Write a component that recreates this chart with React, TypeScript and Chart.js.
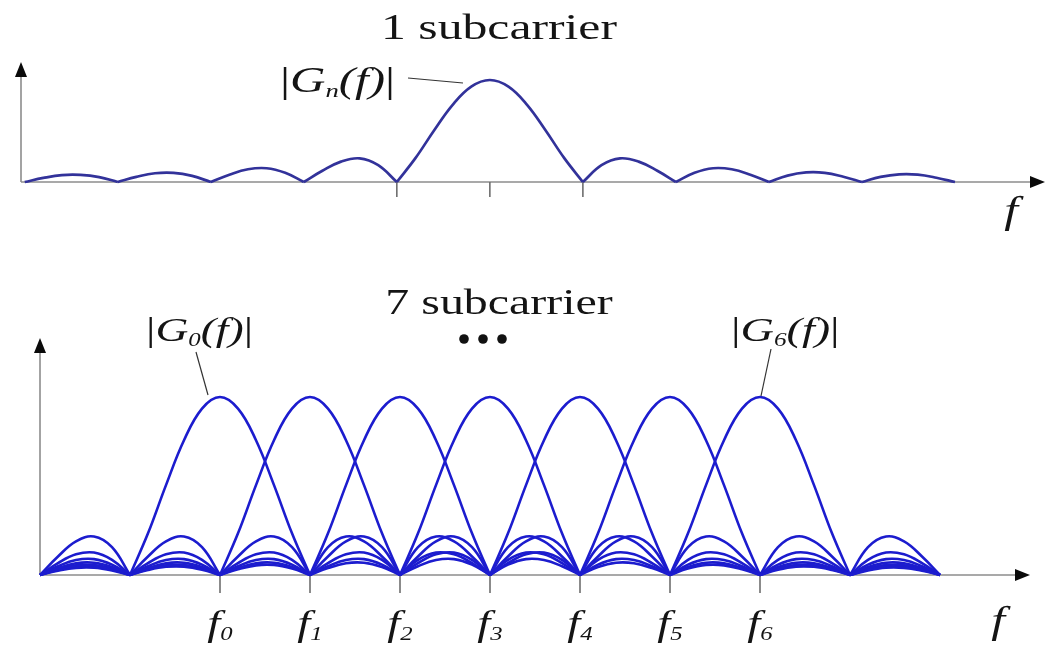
import { useEffect, useRef } from "react";
import { Chart, registerables } from "chart.js";

Chart.register(...registerables);

// Sampling grid used by both panels, in units of the subcarrier spacing
const SAMPLE_STEP = 0.2;

// |Gn(f)| of a single subcarrier, sampled every 0.2 spacings from -5 to +5
const singleCarrierMagnitude: number[] = [
  0, 0.04, 0.068, 0.07, 0.048,
  0, 0.05, 0.086, 0.09, 0.06,
  0, 0.072, 0.125, 0.135, 0.09,
  0, 0.11, 0.2, 0.232, 0.165,
  0, 0.234, 0.505, 0.757, 0.935,
  1,
  0.935, 0.757, 0.505, 0.234, 0,
  0.165, 0.232, 0.2, 0.11, 0,
  0.09, 0.135, 0.125, 0.072, 0,
  0.063, 0.094, 0.09, 0.052, 0,
  0.05, 0.075, 0.072, 0.042, 0,
];
const singleCarrierStart = -5;

// |Gk(f)| of one subcarrier of the 7-carrier group, sampled every 0.2 spacings
// away from its own centre frequency (offset 0 to 8)
const subcarrierProfile: number[] = [
  1, 0.935, 0.757, 0.505, 0.234,
  0, 0.156, 0.216, 0.189, 0.104,
  0, 0.085, 0.126, 0.116, 0.067,
  0, 0.058, 0.089, 0.084, 0.049,
  0, 0.045, 0.069, 0.066, 0.039,
  0, 0.036, 0.056, 0.054, 0.032,
  0, 0.03, 0.047, 0.046, 0.028,
  0, 0.026, 0.041, 0.04, 0.024,
  0,
];

// Subcarrier centre frequencies f0..f6 (in spacings from f0) and their subscripts
const subcarrierCentres: number[] = [0, 1, 2, 3, 4, 5, 6];
const subcarrierSubscripts: string[] = ["0", "1", "2", "3", "4", "5", "6"];
// Occupied band of the group, in spacings from f0
const bandStart = -2;
const bandEnd = 8;

// Ticks of the single-carrier panel (main-lobe nulls and centre)
const singleCarrierTicks: number[] = [-1, 0, 1];

const SERIF = '"Liberation Serif", "Times New Roman", serif';

type Pt = { x: number; y: number | null };

const round3 = (v: number) => Math.round(v * 1000) / 1000;

// Turn samples into points; interior nulls get a gap so each lobe meets the axis in a cusp
function toLobes(xs: number[], ys: number[]): Pt[] {
  const pts: Pt[] = [];
  ys.forEach((y, i) => {
    const x = xs[i];
    if (y === 0 && i > 0 && i < ys.length - 1) {
      pts.push({ x, y: 0 }, { x, y: null }, { x, y: 0 });
    } else {
      pts.push({ x, y });
    }
  });
  return pts;
}

type Run = { text: string; italic?: boolean; size: number; dy?: number };

function drawRuns(
  ctx: CanvasRenderingContext2D,
  runs: Run[],
  x: number,
  baseline: number,
  align: "left" | "center",
  stretch: number
) {
  ctx.save();
  ctx.textBaseline = "alphabetic";
  ctx.textAlign = "left";
  const widths = runs.map((r) => {
    ctx.font = `${r.italic ? "italic " : ""}${r.size}px ${SERIF}`;
    return ctx.measureText(r.text).width;
  });
  const total = widths.reduce((a, b) => a + b, 0);
  ctx.translate(x, baseline);
  ctx.scale(stretch, 1);
  let cx = align === "center" ? -total / 2 : 0;
  ctx.fillStyle = "#141414";
  runs.forEach((r, i) => {
    ctx.font = `${r.italic ? "italic " : ""}${r.size}px ${SERIF}`;
    ctx.fillText(r.text, cx, r.dy ?? 0);
    cx += widths[i];
  });
  ctx.restore();
}

function magnitudeLabel(sub: string, size: number): Run[] {
  return [
    { text: "|", size: size + 1 },
    { text: "G", italic: true, size },
    { text: sub, italic: true, size: Math.round(size * 0.55), dy: 5 },
    { text: "(f)", italic: true, size },
    { text: "|", size: size + 1 },
  ];
}

function line(ctx: CanvasRenderingContext2D, x1: number, y1: number, x2: number, y2: number) {
  ctx.beginPath();
  ctx.moveTo(x1, y1);
  ctx.lineTo(x2, y2);
  ctx.stroke();
}

function triangle(ctx: CanvasRenderingContext2D, pts: [number, number][]) {
  ctx.beginPath();
  ctx.moveTo(pts[0][0], pts[0][1]);
  ctx.lineTo(pts[1][0], pts[1][1]);
  ctx.lineTo(pts[2][0], pts[2][1]);
  ctx.closePath();
  ctx.fill();
}

// Axes with arrow heads, drawn under the curves
function drawAxes(chart: Chart, yTip: number, xTip: number, ticks: number[], tickLen: number) {
  const { ctx, chartArea: a } = chart;
  const xs = chart.scales.x;
  ctx.save();
  ctx.strokeStyle = "#8c8c8c";
  ctx.lineWidth = 1.6;
  line(ctx, a.left, a.bottom, a.left, yTip + 12);
  line(ctx, a.left, a.bottom, xTip - 12, a.bottom);
  ctx.strokeStyle = "#6e6e6e";
  ticks.forEach((t) => {
    const px = xs.getPixelForValue(t);
    line(ctx, px, a.bottom, px, a.bottom + tickLen);
  });
  ctx.fillStyle = "#0a0a0a";
  triangle(ctx, [
    [a.left, yTip],
    [a.left - 6, yTip + 15],
    [a.left + 6, yTip + 15],
  ]);
  triangle(ctx, [
    [xTip, a.bottom],
    [xTip - 15, a.bottom - 6],
    [xTip - 15, a.bottom + 6],
  ]);
  ctx.restore();
}

const singleDecor = {
  id: "singleDecor",
  beforeDatasetsDraw(chart: Chart) {
    drawAxes(chart, 62, 1045, singleCarrierTicks, 15);
  },
  afterDraw(chart: Chart) {
    const { ctx } = chart;
    drawRuns(ctx, [{ text: "1 subcarrier", size: 36 }], 499, 39, "center", 1.38);
    drawRuns(ctx, magnitudeLabel("n", 35), 280, 92, "left", 1.4);
    ctx.save();
    ctx.strokeStyle = "#333";
    ctx.lineWidth = 1.2;
    line(ctx, 408, 78, 463, 83);
    ctx.restore();
    drawRuns(ctx, [{ text: "f", italic: true, size: 38 }], 1011, 223, "center", 1.3);
  },
};

const groupDecor = {
  id: "groupDecor",
  beforeDatasetsDraw(chart: Chart) {
    drawAxes(chart, 88, 1030, subcarrierCentres, 18);
  },
  afterDraw(chart: Chart) {
    const { ctx } = chart;
    const xs = chart.scales.x;
    drawRuns(ctx, [{ text: "7 subcarrier", size: 36 }], 499, 64, "center", 1.33);
    // ellipsis between the first and last labelled carriers
    ctx.save();
    ctx.fillStyle = "#111";
    [464, 483, 502].forEach((cx) => {
      ctx.beginPath();
      ctx.arc(cx, 89, 4.8, 0, Math.PI * 2);
      ctx.fill();
    });
    ctx.restore();
    drawRuns(ctx, magnitudeLabel("0", 33), 146, 91, "left", 1.38);
    drawRuns(ctx, magnitudeLabel("6", 33), 731, 91, "left", 1.4);
    ctx.save();
    ctx.strokeStyle = "#333";
    ctx.lineWidth = 1.2;
    line(ctx, 196, 102, 208, 145);
    line(ctx, 771, 99, 761, 146);
    ctx.restore();
    subcarrierCentres.forEach((c, i) => {
      const px = xs.getPixelForValue(c);
      drawRuns(
        ctx,
        [
          { text: "f", italic: true, size: 36 },
          { text: subcarrierSubscripts[i], italic: true, size: 19, dy: 5 },
        ],
        px,
        385,
        "center",
        1.3
      );
    });
    drawRuns(ctx, [{ text: "f", italic: true, size: 38 }], 998, 383, "center", 1.3);
  },
};

function singleCarrierPoints(): Pt[] {
  const xs = singleCarrierMagnitude.map((_, i) => round3(singleCarrierStart + i * SAMPLE_STEP));
  return toLobes(xs, singleCarrierMagnitude);
}

function subcarrierPoints(centre: number): Pt[] {
  const count = Math.round((bandEnd - bandStart) / SAMPLE_STEP) + 1;
  const xs: number[] = [];
  const ys: number[] = [];
  for (let i = 0; i < count; i++) {
    const x = round3(bandStart + i * SAMPLE_STEP);
    const k = Math.round(Math.abs(x - centre) / SAMPLE_STEP);
    xs.push(x);
    ys.push(subcarrierProfile[k] ?? 0);
  }
  return toLobes(xs, ys);
}

export default function App() {
  const topRef = useRef<HTMLCanvasElement>(null);
  const bottomRef = useRef<HTMLCanvasElement>(null);

  useEffect(() => {
    if (!topRef.current || !bottomRef.current) return;
    const common = {
      animation: false as const,
      responsive: false,
      devicePixelRatio: 1,
      events: [] as any[],
      plugins: { legend: { display: false }, tooltip: { enabled: false } },
    };

    const top = new Chart(topRef.current, {
      type: "line",
      data: {
        datasets: [
          {
            data: singleCarrierPoints() as any,
            borderColor: "#32329a",
            borderWidth: 2.7,
            pointRadius: 0,
            tension: 0.4,
            spanGaps: false,
            clip: false as any,
          },
        ],
      },
      options: {
        ...common,
        layout: { padding: { left: 21, right: 44.5, top: 59.6, bottom: 68 } },
        scales: {
          x: { type: "linear", min: -5.04, max: 5.5, display: false },
          y: { min: 0, max: 1.2, display: false },
        },
      },
      plugins: [singleDecor],
    });

    const bottom = new Chart(bottomRef.current, {
      type: "line",
      data: {
        datasets: subcarrierCentres.map((c) => ({
          data: subcarrierPoints(c) as any,
          borderColor: "#1c1cce",
          borderWidth: 2.6,
          pointRadius: 0,
          tension: 0.4,
          spanGaps: false,
          clip: false as any,
        })),
      },
      options: {
        ...common,
        layout: { padding: { left: 40, right: 61, top: 111.4, bottom: 71 } },
        scales: {
          x: { type: "linear", min: -2, max: 8.5, display: false },
          y: { min: 0, max: 1.2, display: false },
        },
      },
      plugins: [groupDecor],
    });

    return () => {
      top.destroy();
      bottom.destroy();
    };
  }, []);

  return (
    <div
      style={{
        position: "fixed",
        left: 0,
        top: 0,
        width: 1046,
        height: 646,
        background: "#ffffff",
        overflow: "hidden",
      }}
    >
      <canvas
        ref={topRef}
        width={1046}
        height={250}
        style={{ position: "absolute", left: 0, top: 0, width: 1046, height: 250 }}
      />
      <canvas
        ref={bottomRef}
        width={1046}
        height={396}
        style={{ position: "absolute", left: 0, top: 250, width: 1046, height: 396 }}
      />
    </div>
  );
}
